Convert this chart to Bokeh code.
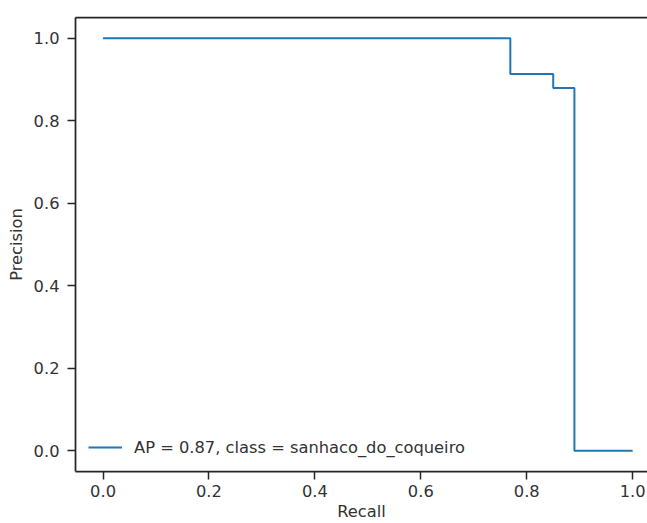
from bokeh.plotting import figure
from bokeh.models import (Range1d, FixedTicker, PrintfTickFormatter, LinearAxis,
                          Legend, LegendItem)
from bokeh.embed import file_html
from bokeh.resources import INLINE

# Precision-recall curve (step, post) for one class
recall = [0.0, 0.769, 0.85, 0.89, 1.0]
precision = [1.0, 0.913, 0.879, 0.0, 0.0]
ap_value = 0.87
class_name = "sanhaco_do_coqueiro"
tick_values = [0.0, 0.2, 0.4, 0.6, 0.8, 1.0]

FONT = "DejaVu Sans"
SIZE = "16.3px"
INK = "#262626"
TEXT = "#333333"
BLUE = "#1f77b4"

p = figure(width=647, height=523, output_backend="svg", toolbar_location=None,
           x_range=Range1d(-0.052, 1.028), y_range=Range1d(-0.05, 1.05),
           min_border_left=75, min_border_right=0, min_border_top=17,
           min_border_bottom=0)
p.outline_line_color = None
p.grid.visible = False
p.background_fill_color = "white"
p.border_fill_color = "white"

curve = p.step(recall, precision, mode="after", line_color=BLUE, line_width=2)

bottom_axis = p.below[0]
left_axis = p.left[0]

# top spine: an axis with only its line drawn
top = LinearAxis(ticker=FixedTicker(ticks=[]), major_label_text_font_size="0px",
                 major_tick_out=0, major_tick_in=0, minor_tick_out=0, minor_tick_in=0,
                 axis_line_color=INK, axis_line_width=1.75)
p.add_layout(top, "above")

for ax in (bottom_axis, left_axis):
    ax.ticker = FixedTicker(ticks=tick_values)
    ax.formatter = PrintfTickFormatter(format="%.1f")
    ax.axis_line_color = INK
    ax.axis_line_width = 1.75
    ax.major_tick_line_color = INK
    ax.major_tick_line_width = 1.5
    ax.major_tick_out = 8
    ax.major_tick_in = 0
    ax.minor_tick_out = 0
    ax.minor_tick_in = 0
    ax.major_label_text_font = FONT
    ax.major_label_text_font_size = SIZE
    ax.major_label_text_color = TEXT
    ax.axis_label_text_font = FONT
    ax.axis_label_text_font_size = SIZE
    ax.axis_label_text_font_style = "normal"
    ax.axis_label_text_color = TEXT

bottom_axis.axis_label = "Recall"
left_axis.axis_label = "Precision"
bottom_axis.major_label_standoff = 5
bottom_axis.axis_label_standoff = 2
left_axis.major_label_standoff = 8
left_axis.axis_label_standoff = 5

legend = Legend(items=[LegendItem(label=f"AP = {ap_value:.2f}, class = {class_name}",
                                  renderers=[curve])],
                location="bottom_left", margin=13, padding=7,
                glyph_width=34, glyph_height=22, label_standoff=12,
                label_text_font=FONT, label_text_font_size=SIZE,
                label_text_color=TEXT, border_line_color=None,
                background_fill_color="white", background_fill_alpha=0.8)
p.add_layout(legend)

open("out.html", "w").write(file_html(p, INLINE))
